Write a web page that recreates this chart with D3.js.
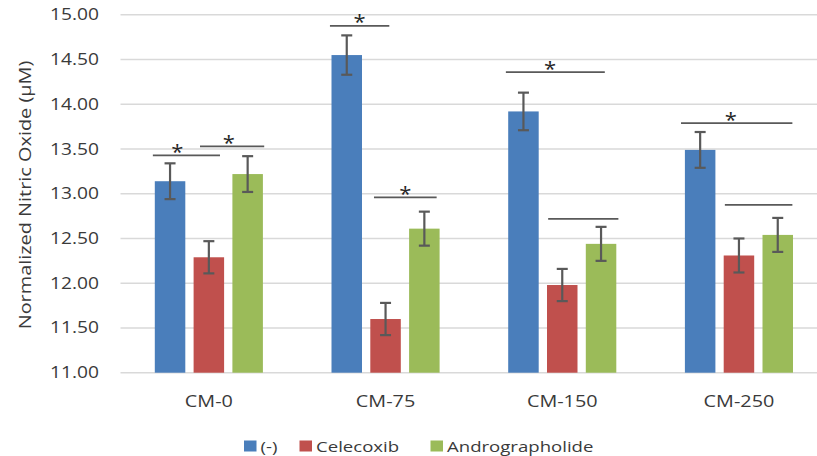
<!DOCTYPE html>
<html><head><meta charset="utf-8">
<script src="https://cdn.jsdelivr.net/npm/d3@7"></script>
<style>html,body{margin:0;padding:0;background:#fff;overflow:hidden}</style>
</head><body>
<svg id="c" width="817" height="456"></svg>
<script>
// ---- data ----
const categories = ["CM-0", "CM-75", "CM-150", "CM-250"];
const seriesNames = ["(-)", "Celecoxib", "Andrographolide"];
const valsNeg = [13.14, 14.55, 13.92, 13.49];
const valsCel = [12.29, 11.60, 11.98, 12.31];
const valsAnd = [13.22, 12.61, 12.44, 12.54];
const errNeg = [0.20, 0.22, 0.21, 0.20];
const errCel = [0.18, 0.18, 0.18, 0.19];
const errAnd = [0.20, 0.19, 0.19, 0.19];
const yTicks = [11.00, 11.50, 12.00, 12.50, 13.00, 13.50, 14.00, 14.50, 15.00];
// significance brackets: group, from slot, to slot, level (µM), star slot (null = none)
const sigGroup = ["CM-0", "CM-0", "CM-75", "CM-75", "CM-150", "CM-150", "CM-250", "CM-250"];
const sigFrom  = [-0.05, 1.165, -0.04, 1.095, -0.06, 1.03, -0.10, 1.03];
const sigTo    = [1.68, 2.82, 1.49, 2.71, 2.49, 2.84, 2.77, 2.77];
const sigLevel = [13.43, 13.53, 14.876, 12.96, 14.36, 12.72, 13.79, 12.875];
const sigStar  = [0.58, 1.905, 0.72, 1.90, 1.08, null, 1.18, null];

const colors = ["#4a7ebb", "#c0504d", "#9bbb59"];
const seriesVals = [valsNeg, valsCel, valsAnd];
const seriesErr = [errNeg, errCel, errAnd];

const SX = 1.24; // horizontal glyph stretch of the reference
const FONT = "'Open Sans', sans-serif";
const svg = d3.select("#c");

const y = d3.scaleLinear().domain([11, 15]).range([372.7, 14.8]);
const x0 = d3.scaleBand().domain(categories).range([120.5, 827.3]).padding(0);
const slotStep = 38.8, slotOff = 34.3, barW = 30.5;
const slotX = (cat, s) => x0(cat) + slotOff + s * slotStep;

function txt(g, xp, yp, str, size, anchor, extra, sx) {
  return g.append("text")
    .attr("transform", `translate(${xp},${yp}) ${extra || ""} scale(${sx || SX},1)`)
    .attr("text-anchor", anchor)
    .attr("font-family", FONT)
    .attr("font-size", size)
    .attr("fill", "#3a3a3a")
    .text(str);
}

// gridlines
const grid = svg.append("g");
grid.selectAll("line").data(yTicks).join("line")
  .attr("x1", 120.5).attr("x2", 817)
  .attr("y1", d => y(d)).attr("y2", d => y(d))
  .attr("stroke", "#d9d9d9").attr("stroke-width", 1.6);

// y tick labels
const yl = svg.append("g");
yTicks.forEach(t => txt(yl, 99, y(t) + 5.5, d3.format(".2f")(t), 15.5, "end"));

// y axis title
txt(svg, 31, 195, "Normalized Nitric Oxide (µM)", 17, "middle", "rotate(-90)", 1.17);

// bars
const data = [];
categories.forEach((c, i) => seriesVals.forEach((sv, s) => data.push({c, s, v: sv[i], e: seriesErr[s][i]})));
svg.append("g").selectAll("rect").data(data).join("rect")
  .attr("x", d => slotX(d.c, d.s))
  .attr("width", barW)
  .attr("y", d => y(d.v))
  .attr("height", d => y(11) - y(d.v))
  .attr("fill", d => colors[d.s]);

// error bars
const eb = svg.append("g").attr("stroke", "#595959").attr("stroke-width", 2.2);
data.forEach(d => {
  const cx = slotX(d.c, d.s) + barW / 2;
  eb.append("line").attr("x1", cx).attr("x2", cx).attr("y1", y(d.v + d.e)).attr("y2", y(d.v - d.e));
  eb.append("line").attr("x1", cx - 5.5).attr("x2", cx + 5.5).attr("y1", y(d.v + d.e)).attr("y2", y(d.v + d.e));
  eb.append("line").attr("x1", cx - 5.5).attr("x2", cx + 5.5).attr("y1", y(d.v - d.e)).attr("y2", y(d.v - d.e));
});

// significance brackets
const sg = svg.append("g");
sigGroup.forEach((g, i) => {
  sg.append("line")
    .attr("x1", slotX(g, sigFrom[i])).attr("x2", slotX(g, sigTo[i]))
    .attr("y1", y(sigLevel[i])).attr("y2", y(sigLevel[i]))
    .attr("stroke", "#595959").attr("stroke-width", 1.8);
  if (sigStar[i] !== null) {
    txt(sg, slotX(g, sigStar[i]), y(sigLevel[i]) + 3.5, "*", 20, "middle", "", 1.1).attr("fill", "#262626");
  }
});

// x labels
const xl = svg.append("g");
categories.forEach(c => txt(xl, x0(c) + x0.bandwidth() / 2, 406.5, c, 16, "middle"));

// legend
const legX = [244, 299.5, 430.5];
const lg = svg.append("g");
seriesNames.forEach((n, i) => {
  lg.append("rect").attr("x", legX[i]).attr("y", 440.5).attr("width", 12.5).attr("height", 11).attr("fill", colors[i]);
  txt(lg, legX[i] + 16.5, 451.5, n, 15, "start");
});
</script>
</body></html>
